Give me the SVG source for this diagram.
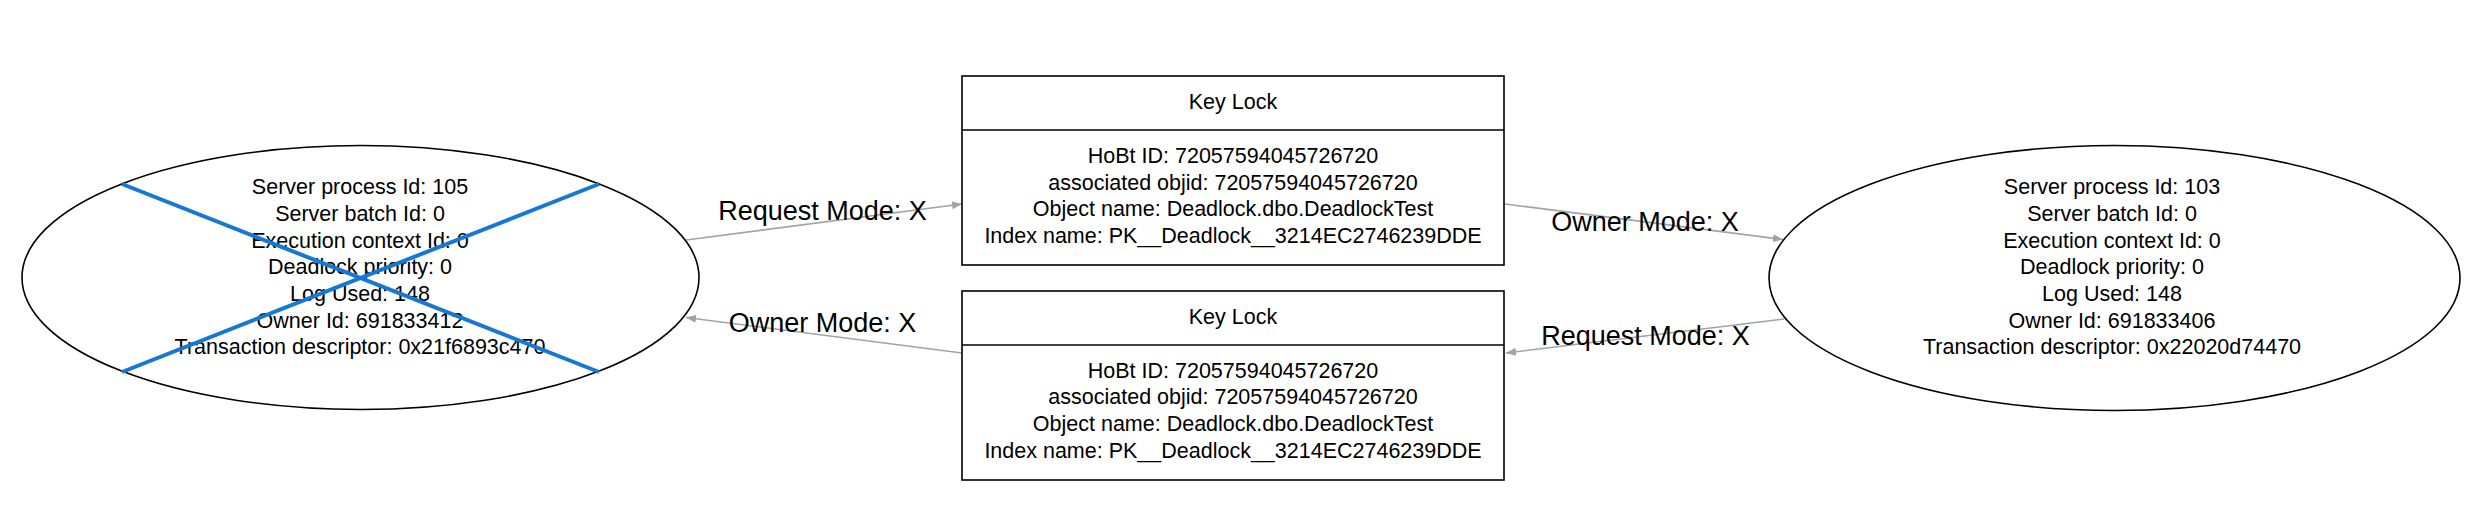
<svg xmlns="http://www.w3.org/2000/svg" width="2485" height="532" viewBox="0 0 2485 532">
<style>
.bg{fill:#ffffff}
.node{fill:#ffffff;stroke:#000000;stroke-width:1.6}
.t{font-family:"Liberation Sans",Arial,sans-serif;font-size:21.5px;fill:#000000;text-anchor:middle;dominant-baseline:central}
.lbl{font-family:"Liberation Sans",Arial,sans-serif;font-size:27px;fill:#000000;text-anchor:middle;dominant-baseline:central}
.edge{fill:none;stroke:#a3a3a3;stroke-width:1.6;marker-end:url(#arr)}
.victim{stroke:#1478d4;stroke-width:4;stroke-linecap:butt}
</style>
<defs>
<marker id="arr" viewBox="0 0 10 8" refX="10" refY="4" markerWidth="10" markerHeight="8" markerUnits="userSpaceOnUse" orient="auto">
<path d="M0,0 L10,4 L0,8 z" fill="#a3a3a3"/>
</marker>
</defs>
<rect class="bg" x="0" y="0" width="2485" height="532"/>
<g id="connectors">
<line class="edge" x1="686" y1="240" x2="962" y2="204"/>
<line class="edge" x1="1505" y1="204" x2="1783" y2="239.5"/>
<line class="edge" x1="1784" y1="319" x2="1506" y2="353"/>
<line class="edge" x1="962" y1="353" x2="686" y2="317.5"/>
<text class="lbl" x="822.5" y="210.7">Request Mode: X</text>
<text class="lbl" x="1645" y="222.3">Owner Mode: X</text>
<text class="lbl" x="1645.5" y="336">Request Mode: X</text>
<text class="lbl" x="822.5" y="322.7">Owner Mode: X</text>
</g>
<g id="process105">
<ellipse class="node" cx="360.5" cy="277.5" rx="338.5" ry="132"/>
<text class="t" x="360" y="187.3">Server process Id: 105</text>
<text class="t" x="360" y="214">Server batch Id: 0</text>
<text class="t" x="360" y="240.7">Execution context Id: 0</text>
<text class="t" x="360" y="267.3">Deadlock priority: 0</text>
<text class="t" x="360" y="294">Log Used: 148</text>
<text class="t" x="360" y="320.7">Owner Id: 691833412</text>
<text class="t" x="360" y="347.3">Transaction descriptor: 0x21f6893c470</text>
<line class="victim" x1="122" y1="184" x2="599" y2="372"/>
<line class="victim" x1="599" y1="184" x2="122" y2="372"/>
</g>
<g id="keylock1">
<rect class="node" x="962" y="76" width="542" height="189"/>
<line class="node" x1="962" y1="130" x2="1504" y2="130"/>
<text class="t" x="1233" y="102.3">Key Lock</text>
<text class="t" x="1233" y="156">HoBt ID: 72057594045726720</text>
<text class="t" x="1233" y="182.7">associated objid: 72057594045726720</text>
<text class="t" x="1233" y="209.3">Object name: Deadlock.dbo.DeadlockTest</text>
<text class="t" x="1233" y="236">Index name: PK__Deadlock__3214EC2746239DDE</text>
</g>
<g id="keylock2">
<rect class="node" x="962" y="291" width="542" height="189"/>
<line class="node" x1="962" y1="345" x2="1504" y2="345"/>
<text class="t" x="1233" y="316.7">Key Lock</text>
<text class="t" x="1233" y="370.7">HoBt ID: 72057594045726720</text>
<text class="t" x="1233" y="397.3">associated objid: 72057594045726720</text>
<text class="t" x="1233" y="424">Object name: Deadlock.dbo.DeadlockTest</text>
<text class="t" x="1233" y="450.7">Index name: PK__Deadlock__3214EC2746239DDE</text>
</g>
<g id="process103">
<ellipse class="node" cx="2114.5" cy="278" rx="345.5" ry="132.5"/>
<text class="t" x="2112" y="187.3">Server process Id: 103</text>
<text class="t" x="2112" y="214">Server batch Id: 0</text>
<text class="t" x="2112" y="240.7">Execution context Id: 0</text>
<text class="t" x="2112" y="267.3">Deadlock priority: 0</text>
<text class="t" x="2112" y="294">Log Used: 148</text>
<text class="t" x="2112" y="320.7">Owner Id: 691833406</text>
<text class="t" x="2112" y="347.3">Transaction descriptor: 0x22020d74470</text>
</g>
</svg>
